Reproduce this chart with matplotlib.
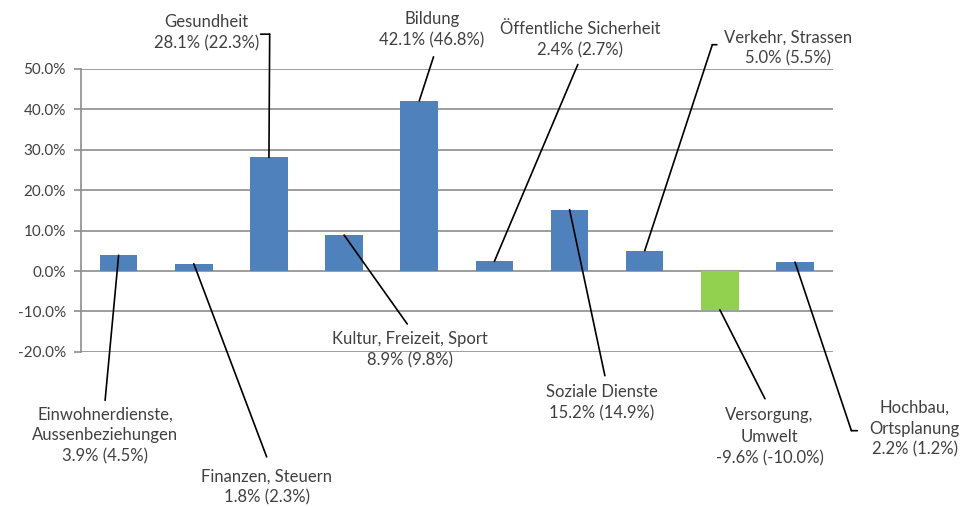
import matplotlib.pyplot as plt
from matplotlib.ticker import FuncFormatter

# data
categories = ['Einwohnerdienste,\nAussenbeziehungen', 'Finanzen, Steuern', 'Gesundheit',
              'Kultur, Freizeit, Sport', 'Bildung', 'Öffentliche Sicherheit',
              'Soziale Dienste', 'Verkehr, Strassen', 'Versorgung,\nUmwelt',
              'Hochbau,\nOrtsplanung']
values = [3.9, 1.8, 28.1, 8.9, 42.1, 2.4, 15.2, 5.0, -9.6, 2.2]
previous = [4.5, 2.3, 22.3, 9.8, 46.8, 2.7, 14.9, 5.5, -10.0, 1.2]

# label layout: text centre (x, y) and leader end point, in data units
label_pos = [(-0.18, -40.7), (1.97, -53.5), (1.17, 58.9), (3.88, -19.5), (4.17, 59.8),
             (6.14, 57.3), (6.43, -32.7), (8.91, 55.2), (8.66, -41.0), (10.59, -39.0)]
leader_end = [(-0.18, -32.0), (1.97, -46.0), (2.01, 58.6), (3.84, -13.1), (4.19, 53.0),
              (6.11, 51.1), (6.47, -25.9), (7.9, 56.0), (8.6, -31.6), (9.75, -39.5)]
stub_end = {2: 1.89, 7: 7.96, 9: 9.83}

blue = '#4f81bd'
green = '#92d050'
grey = '#8c8c8c'
text_col = '#404040'

plt.rcParams['font.family'] = ['Lato', 'DejaVu Sans']

fig = plt.figure(figsize=(9.66, 5.07), dpi=100)
ax = fig.add_axes([0.0839, 0.306, 0.778, 0.558])

colors = [green if v < 0 else blue for v in values]
ax.bar(range(len(values)), values, width=0.5, color=colors, zorder=3)

ax.set_xlim(-0.5, len(values) - 0.5)
ax.set_ylim(-20, 50)
ax.set_yticks(range(-20, 51, 10))
ax.yaxis.set_major_formatter(FuncFormatter(lambda v, p: f'{v:.1f}%'))
ax.set_xticks([])
ax.grid(True, axis='y', color=grey, linewidth=1.2, zorder=0)
for s in ['top', 'right', 'bottom']:
    ax.spines[s].set_visible(False)
ax.spines['left'].set_color(grey)
ax.spines['left'].set_linewidth(1.2)
ax.tick_params(axis='y', colors=grey, length=5, width=1.2, labelcolor=text_col,
               labelsize=11, pad=6)

for i, (name, v, p) in enumerate(zip(categories, values, previous)):
    txt = f'{name}\n{v:.1f}% ({p:.1f}%)'
    lx, ly = label_pos[i]
    ax.text(lx, ly, txt, ha='center', va='center', fontsize=12, color=text_col,
            linespacing=1.4, clip_on=False, zorder=5)
    ex, ey = leader_end[i]
    ax.annotate('', xy=(i, v), xytext=(ex, ey), annotation_clip=False,
                arrowprops=dict(arrowstyle='-', color='black', lw=1.2,
                                shrinkA=0, shrinkB=0), zorder=6)
    if i in stub_end:
        ax.annotate('', xy=(ex, ey), xytext=(stub_end[i], ey), annotation_clip=False,
                    arrowprops=dict(arrowstyle='-', color='black', lw=1.2,
                                    shrinkA=0, shrinkB=0), zorder=6)

fig.savefig('out.png', dpi=100)
